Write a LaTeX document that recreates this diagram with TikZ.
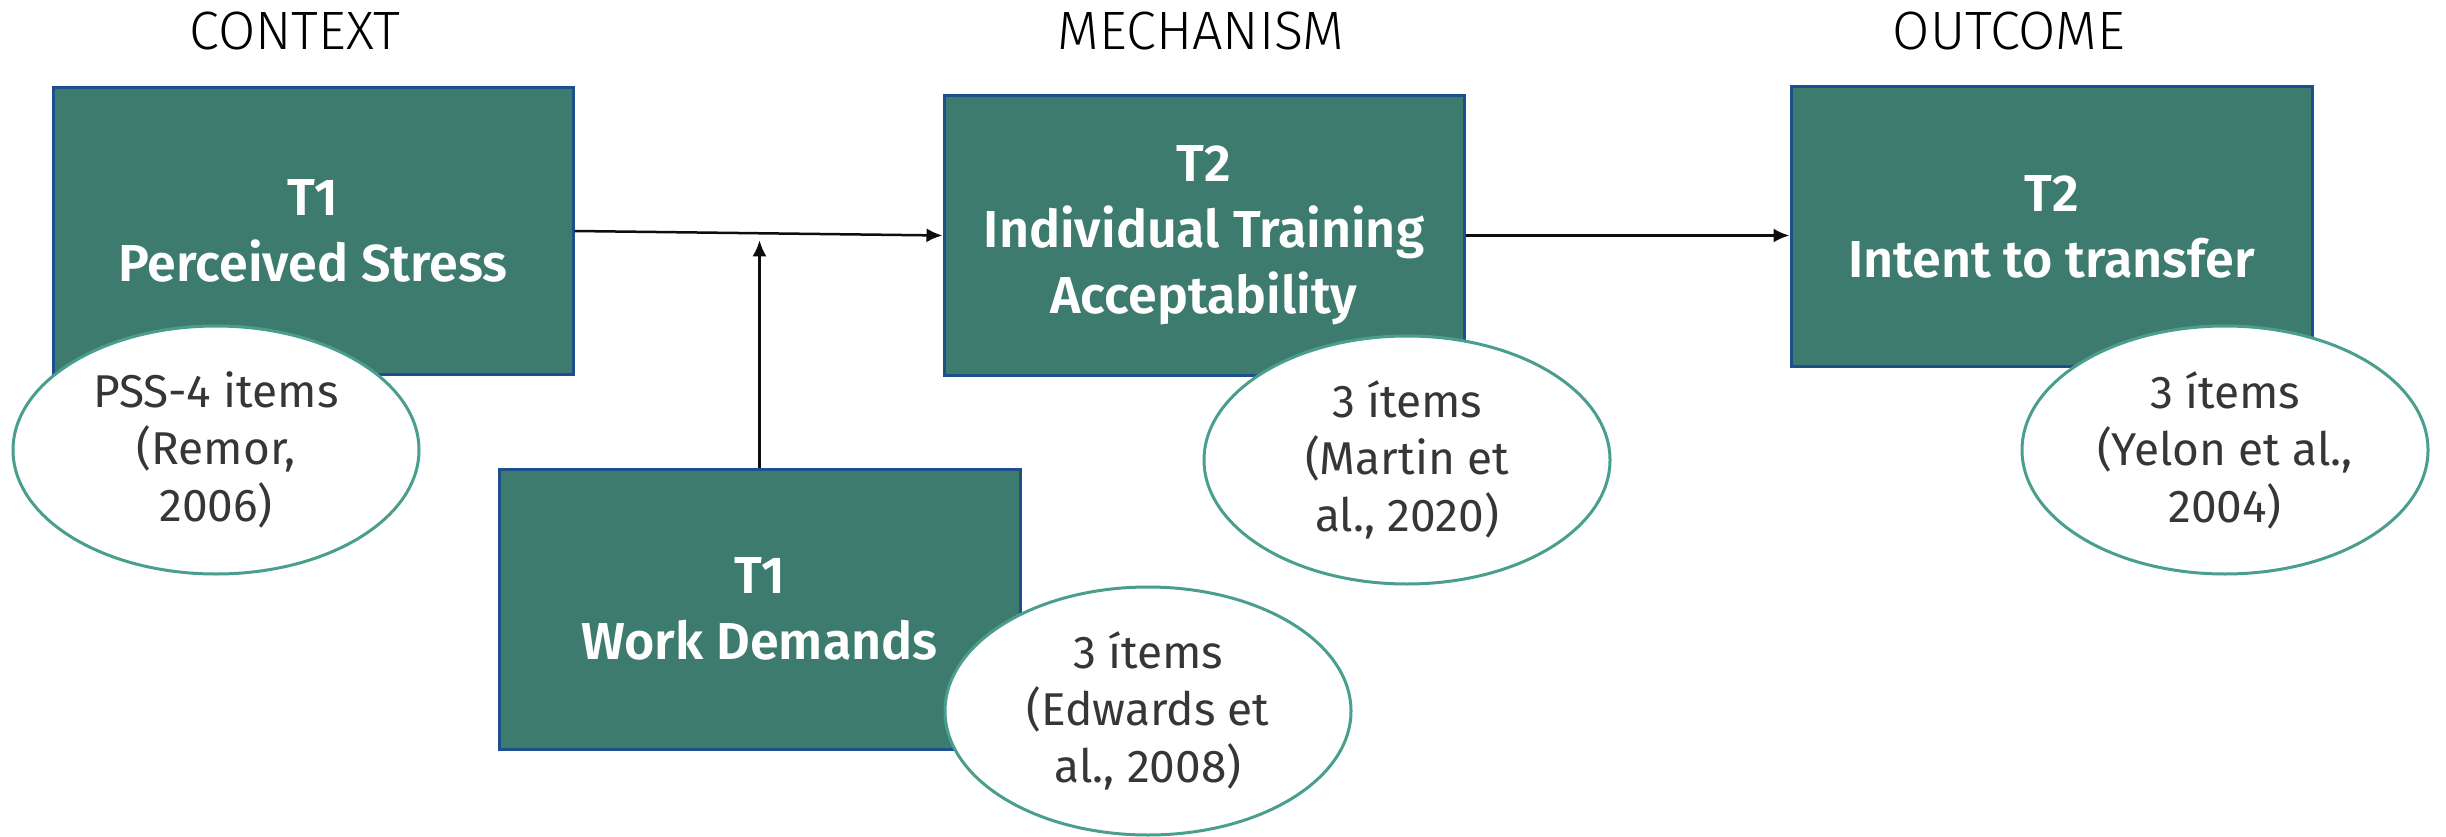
\documentclass[tikz,border=0pt]{standalone}
\usepackage{fontspec}
\setmainfont{Fira Sans}[BoldFont={* SemiBold}]
\newfontfamily\headfont{Fira Sans Light}
\usetikzlibrary{shapes.geometric,arrows.meta,calc}
\definecolor{boxfill}{HTML}{3E7B6F}
\definecolor{boxline}{HTML}{1F4E8C}
\definecolor{ovalline}{HTML}{4A9E8E}
\definecolor{ovaltext}{HTML}{363636}
\begin{document}
\begin{tikzpicture}[x=1pt,y=-1pt,
  varbox/.style={rectangle, draw=boxline, fill=boxfill, line width=3pt,
    text=white, align=center, inner sep=0pt,
    font=\fontsize{52}{66}\selectfont\bfseries},
  oval/.style={ellipse, draw=ovalline, fill=white, line width=3pt,
    text=ovaltext, align=center, inner sep=0pt,
    minimum width=406pt, minimum height=248pt,
    font=\fontsize{46}{57}\selectfont},
  head/.style={font=\headfont\fontsize{54}{60}\selectfont, text=black, inner sep=0pt},
  link/.style={draw=black!95, line width=2.5pt, -{Latex[length=16pt,width=14pt]}}
]
\useasboundingbox (0,0) rectangle (2446,837);

% column headings
\node[head] (hctx) at (295,31)  {CONTEXT};
\node[head] (hmec) at (1201,31) {MECHANISM};
\node[head] (hout) at (2009,31) {OUTCOME};

% variables
\node[varbox, minimum width=520pt, minimum height=286pt] (ps)  at (313,231)    {T1\\Perceived Stress};
\node[varbox, minimum width=520pt, minimum height=279pt] (ita) at (1204,235.5) {T2\\Individual Training\\Acceptability};
\node[varbox, minimum width=521pt, minimum height=279pt] (iot) at (2051.5,226.5) {T2\\Intent to transfer};
\node[varbox, minimum width=521pt, minimum height=280pt] (wd)  at (759.5,609)  {T1\\Work Demands};

% paths
\draw[link] (ps.east) -- (ita.west);
\coordinate (mid) at ($(ps.east)!0.5!(ita.west)$);
\coordinate (tip) at ($(mid)+(0,7)$);
\draw[link] (wd.north) -- (wd.north |- tip);
\draw[link] (ita.east) -- (ita.east -| iot.west);

% measures
\node[oval] (m1) at (216,450)  {PSS-4 items\\(Remor,\\2006)};
\node[oval] (m2) at (1407,460) {3 ítems\\(Martin et\\al., 2020)};
\node[oval] (m3) at (1148,711) {3 ítems\\(Edwards et\\al., 2008)};
\node[oval] (m4) at (2225,450) {3 ítems\\(Yelon et al.,\\2004)};
\end{tikzpicture}
\end{document}
